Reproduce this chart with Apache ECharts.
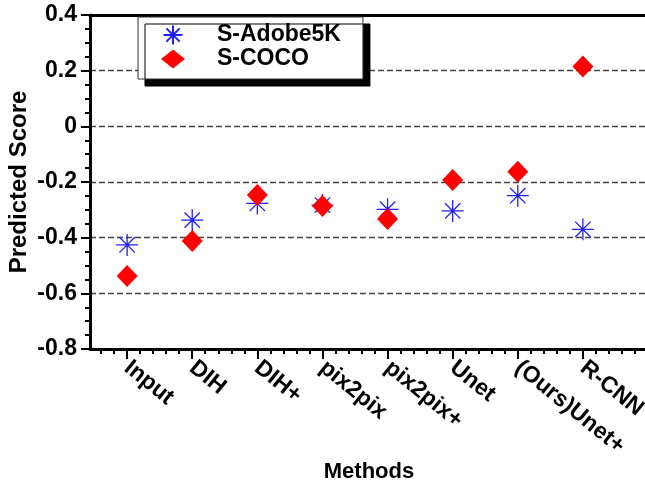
<!DOCTYPE html>
<html>
<head>
<meta charset="utf-8">
<script src="https://cdn.jsdelivr.net/npm/echarts@6/dist/echarts.min.js"></script>
<style>
  html, body { margin: 0; padding: 0; background: #fff; }
  #chart { width: 645px; height: 485px; }
</style>
</head>
<body>
<div id="chart"></div>
<script>
// ---- data ----
const categories = ['Input', 'DIH', 'DIH+', 'pix2pix', 'pix2pix+', 'Unet', '(Ours)Unet+', 'R-CNN'];
const seriesNames = ['S-Adobe5K', 'S-COCO'];
const adobe5k = [-0.426, -0.337, -0.277, -0.283, -0.298, -0.304, -0.249, -0.370];
const coco    = [-0.538, -0.412, -0.247, -0.286, -0.333, -0.193, -0.163, 0.215];
const yMin = -0.8, yMax = 0.4, yStep = 0.2;

// ---- chart ----
const FONT = '"Liberation Sans", Arial, Helvetica, sans-serif';
const xMin = 0.43, xMax = 9;
const majorTicks = [];
for (let i = 1; i <= 9; i++) majorTicks.push(i);
const minorTicks = [];
for (let i = 0; i <= 9; i++) {
  for (let k = 1; k < 5; k++) {
    const v = +(i + k * 0.2).toFixed(2);
    if (v > xMin && v < xMax) minorTicks.push(v);
  }
}
const labelPositions = categories.map((c, i) => i + 1);
const starPath = 'path://M10,0L10,20M0,10L20,10M3,3L17,17M3,17L17,3';

const chart = echarts.init(document.getElementById('chart'), null, { renderer: 'canvas' });
chart.setOption({
  animation: false,
  backgroundColor: '#fff',
  textStyle: { fontFamily: FONT },
  grid: { left: 90, top: 15, width: 558, height: 334, containLabel: false, outerBoundsMode: 'none' },
  legend: {
    orient: 'vertical',
    left: 138,
    top: 17,
    padding: [6, 22, 8, 23],
    itemWidth: 24,
    itemHeight: 19,
    itemGap: 0,
    backgroundColor: '#fff',
    borderColor: '#333',
    borderWidth: 1,
    borderRadius: 0,
    shadowColor: '#000',
    shadowBlur: 0,
    shadowOffsetX: 7,
    shadowOffsetY: 7,
    data: seriesNames,
    textStyle: {
      fontFamily: FONT, fontSize: 23, fontWeight: 'bold', color: '#000',
      lineHeight: 24, padding: [0, 0, 0, 27]
    }
  },
  xAxis: [
    {
      type: 'value', position: 'bottom', min: xMin, max: xMax,
      axisLine: { show: true, onZero: false, lineStyle: { color: '#000', width: 3 } },
      axisTick: { show: true, customValues: majorTicks, length: 10, lineStyle: { color: '#000', width: 2 } },
      axisLabel: {
        show: true, customValues: labelPositions,
        formatter: function (v) { return categories[Math.round(v) - 1] || ''; },
        rotate: -39, margin: 16, fontFamily: FONT, fontSize: 23, fontWeight: 'bold', color: '#000'
      },
      splitLine: { show: false },
      name: 'Methods', nameLocation: 'middle', nameGap: 112, nameMoveOverlap: false,
      nameTextStyle: { fontFamily: FONT, fontSize: 22, fontWeight: 'bold', color: '#000' }
    },
    {
      type: 'value', position: 'bottom', min: xMin, max: xMax,
      axisLine: { show: false, onZero: false },
      axisTick: { show: true, customValues: minorTicks, length: 5, lineStyle: { color: '#000', width: 2 } },
      axisLabel: { show: false },
      splitLine: { show: false }
    },
    {
      type: 'value', position: 'top', min: xMin, max: xMax,
      axisLine: { show: true, onZero: false, lineStyle: { color: '#000', width: 3 } },
      axisTick: { show: false },
      axisLabel: { show: false },
      splitLine: { show: false }
    }
  ],
  yAxis: {
    type: 'value', min: yMin, max: yMax, interval: yStep,
    axisLine: { show: true, onZero: false, lineStyle: { color: '#000', width: 3 } },
    axisTick: { show: true, length: 9, lineStyle: { color: '#000', width: 2 } },
    minorTick: { show: true, splitNumber: 4, length: 5, lineStyle: { color: '#000', width: 2 } },
    axisLabel: { margin: 13, fontFamily: FONT, fontSize: 23, fontWeight: 'bold', color: '#000' },
    splitLine: { show: true, lineStyle: { color: '#444', width: 1.3, type: [6, 3] } },
    minorSplitLine: { show: false },
    name: 'Predicted Score', nameLocation: 'middle', nameGap: 59, nameMoveOverlap: false,
    nameTextStyle: { fontFamily: FONT, fontSize: 24, fontWeight: 'bold', color: '#000' }
  },
  series: [
    {
      name: seriesNames[0], type: 'scatter', xAxisIndex: 0,
      symbol: starPath, symbolSize: 22,
      itemStyle: { color: '#2020ff', borderColor: '#2020ff', borderWidth: 1.3, opacity: 1 },
      data: adobe5k.map((v, i) => [i + 1, v])
    },
    {
      name: seriesNames[1], type: 'scatter', xAxisIndex: 0,
      symbol: 'diamond', symbolSize: [21, 22],
      itemStyle: { color: '#ff0000', opacity: 1 },
      data: coco.map((v, i) => [i + 1, v])
    }
  ]
});
</script>
</body>
</html>
